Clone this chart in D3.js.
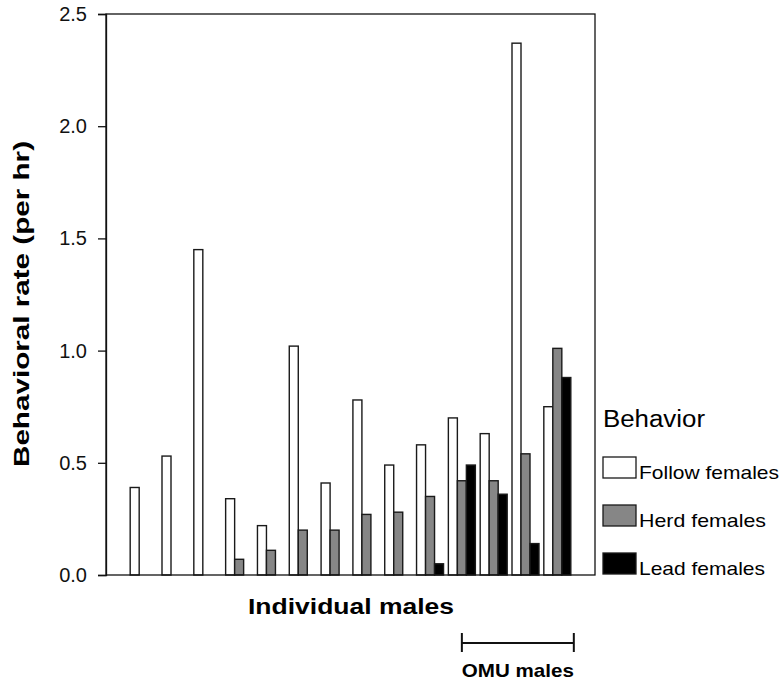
<!DOCTYPE html>
<html>
<head>
<meta charset="utf-8">
<script src="https://cdn.jsdelivr.net/npm/d3@7"></script>
<style>
  html, body { margin: 0; padding: 0; background: #fff; }
  svg { display: block; font-family: "Liberation Sans", Arial, Helvetica, sans-serif; }
</style>
</head>
<body>
<svg id="chart" width="783" height="685"></svg>
<script>
// ---- data ----
const males = ["M1","M2","M3","M4","M5","M6","M7","M8","M9","M10","M11","M12","M13","M14"];
const behaviors = ["Follow females", "Herd females", "Lead females"];
const followFemales = [0.39, 0.53, 1.45, 0.34, 0.22, 1.02, 0.41, 0.78, 0.49, 0.58, 0.70, 0.63, 2.37, 0.75];
const herdFemales   = [0,    0,    0,    0.07, 0.11, 0.20, 0.20, 0.27, 0.28, 0.35, 0.42, 0.42, 0.54, 1.01];
const leadFemales   = [0,    0,    0,    0,    0,    0,    0,    0,    0,    0.05, 0.49, 0.36, 0.14, 0.88];
const yTicks = [0, 0.5, 1.0, 1.5, 2.0, 2.5];
const omuMales = ["M11","M12","M13","M14"];

const seriesValues = [followFemales, herdFemales, leadFemales];
const seriesColors = ["#ffffff", "#868686", "#000000"];

// ---- layout ----
const svg = d3.select("#chart");
const L = 106, R = 595, T = 14, B = 575;

const x0 = d3.scaleBand().domain(males).range([L, R]).paddingInner(0.1515).paddingOuter(0.76);
const x1 = d3.scaleBand().domain(behaviors).range([0, x0.bandwidth()]).padding(0);
const y = d3.scaleLinear().domain([0, 2.5]).range([B, T]);

// bars
const rows = males.map((m, i) => ({ m, vals: behaviors.map((b, j) => ({ b, j, v: seriesValues[j][i] })) }));
const g = svg.append("g");
rows.forEach(r => {
  r.vals.forEach(d => {
    if (d.v <= 0) return;
    g.append("rect")
      .attr("x", x0(r.m) + x1(d.b))
      .attr("y", y(d.v))
      .attr("width", x1.bandwidth())
      .attr("height", y(0) - y(d.v))
      .attr("fill", seriesColors[d.j])
      .attr("stroke", "#1a1a1a")
      .attr("stroke-width", 1.4);
  });
});

// frame
svg.append("rect").attr("x", L).attr("y", T).attr("width", R - L).attr("height", B - T)
  .attr("fill", "none").attr("stroke", "#111").attr("stroke-width", 1.3);

// y axis
const yAxis = svg.append("g").attr("transform", `translate(${L},0)`)
  .call(d3.axisLeft(y).tickValues(yTicks).tickFormat(d3.format(".1f")).tickSize(8).tickPadding(11));
yAxis.select(".domain").attr("stroke", "#111").attr("stroke-width", 1.3);
yAxis.selectAll(".tick line").attr("stroke", "#111").attr("stroke-width", 1.3);
yAxis.selectAll(".tick text").attr("font-size", 20).attr("fill", "#111")
  .attr("font-family", "'Liberation Sans', Arial, sans-serif");

// axis titles
svg.append("text").attr("transform", "translate(29,304) rotate(-90)")
  .attr("text-anchor", "middle").attr("font-size", 22).attr("font-weight", "bold")
  .attr("textLength", 326).attr("lengthAdjust", "spacingAndGlyphs")
  .text("Behavioral rate (per hr)");

svg.append("text").attr("x", 351).attr("y", 614)
  .attr("text-anchor", "middle").attr("font-size", 22).attr("font-weight", "bold")
  .attr("textLength", 206).attr("lengthAdjust", "spacingAndGlyphs")
  .text("Individual males");

// OMU bracket
const bx1 = x0(omuMales[0]) + x0.bandwidth() / 2;
const bx2 = x0(omuMales[omuMales.length - 1]) + x0.bandwidth() + 3;
const by = 643;
const br = svg.append("g").attr("stroke", "#111").attr("stroke-width", 2);
br.append("line").attr("x1", bx1).attr("x2", bx2).attr("y1", by).attr("y2", by);
br.append("line").attr("x1", bx1).attr("x2", bx1).attr("y1", by - 10).attr("y2", by + 9);
br.append("line").attr("x1", bx2).attr("x2", bx2).attr("y1", by - 10).attr("y2", by + 9);
svg.append("text").attr("x", (bx1 + bx2) / 2).attr("y", 677)
  .attr("text-anchor", "middle").attr("font-size", 19).attr("font-weight", "bold")
  .attr("textLength", 112).attr("lengthAdjust", "spacingAndGlyphs")
  .text("OMU males");

// legend
svg.append("text").attr("x", 603).attr("y", 427).attr("font-size", 23)
  .attr("textLength", 102).attr("lengthAdjust", "spacingAndGlyphs")
  .text("Behavior");
const legendLen = [140, 127, 126];
const legendY = [457, 505, 553];
behaviors.forEach((b, j) => {
  svg.append("rect").attr("x", 603).attr("y", legendY[j]).attr("width", 33).attr("height", 21)
    .attr("fill", seriesColors[j]).attr("stroke", "#1a1a1a").attr("stroke-width", 1.3);
  svg.append("text").attr("x", 639).attr("y", legendY[j] + 22).attr("font-size", 19)
    .attr("textLength", legendLen[j]).attr("lengthAdjust", "spacingAndGlyphs")
    .text(b);
});
</script>
</body>
</html>
